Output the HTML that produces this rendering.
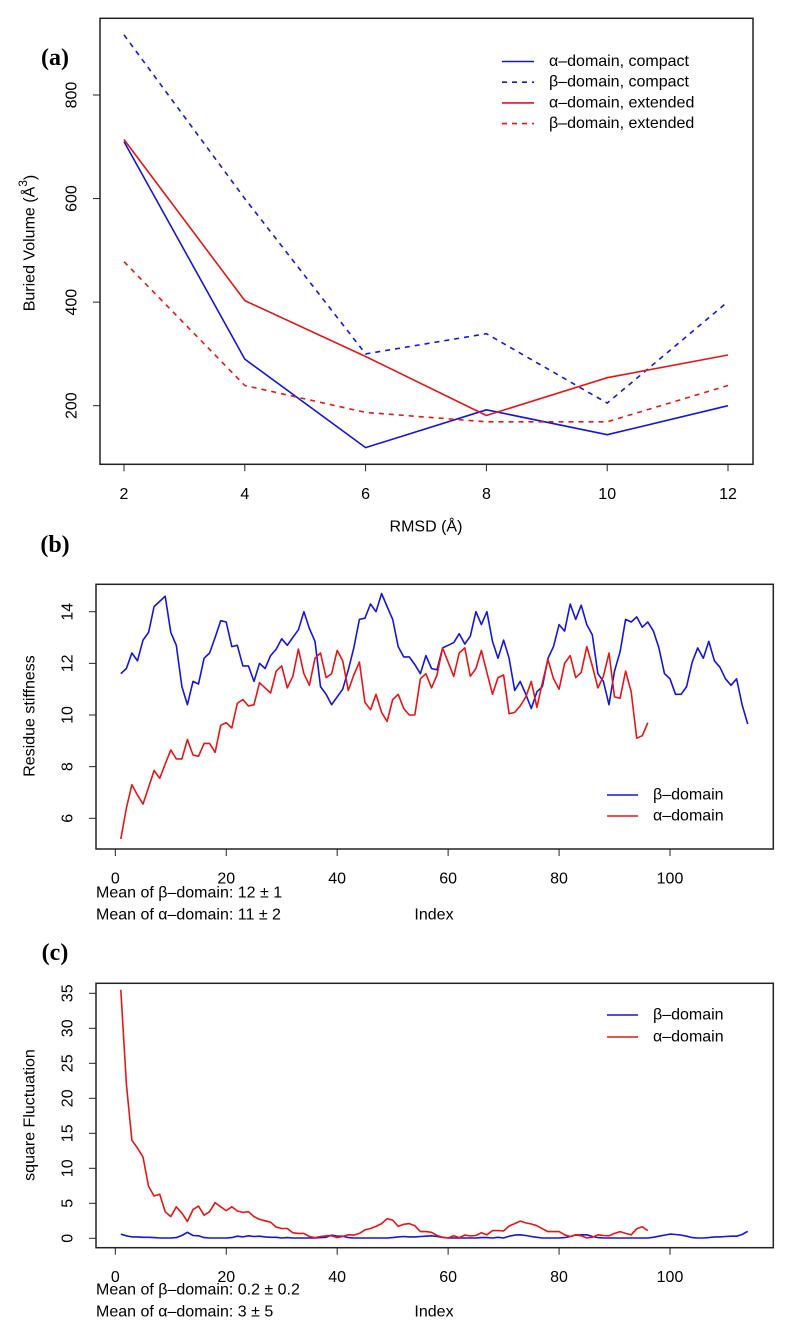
<!DOCTYPE html>
<html><head><meta charset="utf-8"><style>
html,body{margin:0;padding:0;background:#fff}
svg{display:block;font-family:"Liberation Sans",sans-serif}
</style></head><body>
<svg id="fig" width="785" height="1335" viewBox="0 0 785 1335"></svg>
<script>
// Panel (a)
const rmsd = [2,4,6,8,10,12];
const alphaCompact = [710,290,119,192,144,200];
const betaCompact = [916,600,300,339,205,401];
const alphaExtended = [714,403,295,181,254,298];
const betaExtended = [478,239,187,169,169,239];
const aXTicks = [2,4,6,8,10,12];
const aYTicks = [200,400,600,800];
// Panel (b)
const stiffBeta = [11.6,11.8,12.4,12.1,12.9,13.2,14.2,14.4,14.6,13.2,12.7,11.1,10.4,11.3,11.2,12.2,12.4,13.0,13.65,13.6,12.65,12.7,11.9,11.9,11.3,12.0,11.8,12.3,12.55,12.95,12.7,13.0,13.3,14.0,13.35,12.85,11.1,10.8,10.4,10.7,11.0,11.75,12.6,13.7,13.75,14.3,14.0,14.7,14.2,13.7,12.65,12.25,12.25,11.95,11.6,12.3,11.8,11.75,12.6,12.7,12.8,13.15,12.75,13.05,14.0,13.5,14.0,12.85,12.2,12.9,12.2,10.95,11.3,10.8,10.25,10.9,11.1,12.2,12.65,13.5,13.25,14.3,13.7,14.25,13.5,13.1,11.6,11.3,10.4,11.7,12.45,13.7,13.6,13.8,13.4,13.6,13.25,12.6,11.6,11.4,10.8,10.8,11.1,12.05,12.6,12.2,12.85,12.1,11.85,11.4,11.15,11.4,10.4,9.65];
const stiffAlpha = [5.2,6.4,7.3,6.9,6.55,7.2,7.85,7.55,8.1,8.65,8.3,8.3,9.05,8.45,8.4,8.9,8.9,8.55,9.6,9.7,9.5,10.45,10.6,10.35,10.4,11.25,11.05,10.85,11.7,11.9,11.05,11.5,12.55,11.6,11.15,12.2,12.4,11.45,11.6,12.5,12.1,10.95,11.55,12.05,10.5,10.2,10.8,10.1,9.75,10.6,10.8,10.25,10.0,10.0,11.4,11.6,11.05,11.55,12.6,12.05,11.5,12.4,12.6,11.5,11.8,12.5,11.65,10.8,11.45,11.55,10.05,10.1,10.35,10.7,11.3,10.3,11.25,12.15,11.4,11.0,12.0,12.3,11.45,11.65,12.65,11.9,11.05,11.5,12.4,10.7,10.65,11.7,10.9,9.1,9.2,9.7];
const bXTicks = [0,20,40,60,80,100];
const bYTicks = [6,8,10,12,14];
// Panel (c)
const flucBeta = [0.6,0.35,0.2,0.2,0.15,0.15,0.1,0.05,0.05,0.05,0.1,0.4,0.85,0.4,0.35,0.1,0.05,0.05,0.05,0.05,0.1,0.3,0.2,0.35,0.25,0.3,0.2,0.15,0.15,0.05,0.1,0.05,0.05,0.05,0.05,0.05,0.1,0.15,0.45,0.3,0.3,0.1,0.05,0.05,0.05,0.05,0.05,0.05,0.05,0.1,0.2,0.25,0.2,0.2,0.25,0.3,0.35,0.25,0.15,0.05,0.05,0.05,0.05,0.05,0.05,0.1,0.1,0.05,0.15,0.05,0.3,0.45,0.5,0.4,0.25,0.15,0.05,0.05,0.05,0.05,0.1,0.25,0.45,0.5,0.5,0.25,0.1,0.05,0.05,0.05,0.05,0.05,0.05,0.05,0.05,0.05,0.15,0.3,0.45,0.6,0.55,0.45,0.3,0.1,0.05,0.05,0.1,0.2,0.2,0.25,0.3,0.3,0.55,1.0];
const flucAlpha = [35.5,22,14.0,12.9,11.6,7.4,6.05,6.3,3.8,3.1,4.5,3.6,2.4,4.1,4.6,3.3,3.8,5.1,4.5,3.95,4.5,3.9,3.7,3.8,3.1,2.7,2.5,2.3,1.6,1.4,1.4,0.8,0.7,0.7,0.25,0.1,0.25,0.35,0.35,0.1,0.25,0.5,0.45,0.7,1.2,1.4,1.7,2.1,2.8,2.6,1.7,2.0,2.1,1.8,0.95,0.95,0.85,0.4,0.15,0.05,0.35,0.1,0.45,0.33,0.4,0.8,0.5,1.1,1.1,1.05,1.75,2.1,2.45,2.2,2.05,1.8,1.35,0.95,0.95,0.95,0.5,0.25,0.5,0.35,0.05,0.15,0.5,0.4,0.35,0.7,0.95,0.7,0.5,1.35,1.65,1.1];
const cXTicks = [0,20,40,60,80,100];
const cYTicks = [0,5,10,15,20,25,30,35];

const NS='http://www.w3.org/2000/svg';
const svg=document.getElementById('fig');
function mk(tag,attrs,parent){const e=document.createElementNS(NS,tag);for(const k in attrs)e.setAttribute(k,attrs[k]);(parent||svg).appendChild(e);return e;}
function txt(s,x,y,attrs,parent){const e=mk('text',Object.assign({x:x,y:y,'font-size':16,fill:'#000','text-anchor':'middle','dominant-baseline':'central'},attrs||{}),parent);e.textContent=s;return e;}
function lin(a,b,c,d){return function(v){return c+(v-a)*(d-c)/(b-a);};}

function panel(opt){
  const g=mk('g',{});
  
  
  const X=opt.x, Y=opt.y;
  opt.series.forEach(s=>{
    const pts=s.ys.map((v,i)=>(X(s.xs?s.xs[i]:i+1)).toFixed(1)+','+Y(v).toFixed(1)).join(' ');
    const p=mk('polyline',{points:pts,fill:'none',stroke:s.color,'stroke-width':1.6,'stroke-linejoin':'round'},g);
    if(s.dash)p.setAttribute('stroke-dasharray','5,5');
    
    
  });
  const b=opt.box;
  const r=mk('rect',{x:b[0],y:b[1],width:b[2]-b[0],height:b[3]-b[1],fill:'none',stroke:'#222','stroke-width':1.5},g);
  
  
  const xa=mk('g',{},g);
  
  
  opt.xt.forEach(t=>{
    mk('line',{x1:X(t),x2:X(t),y1:b[3],y2:b[3]+7,stroke:'#222','stroke-width':1},xa);
    const l=txt(String(t),X(t),b[3]+30,{},xa);
    
    
  });
  const ya=mk('g',{},g);
  
  
  opt.yt.forEach(t=>{
    mk('line',{x1:b[0]-7,x2:b[0],y1:Y(t),y2:Y(t),stroke:'#222','stroke-width':1},ya);
    const lx=b[0]-28;
    const l=txt(String(t),lx,Y(t),{transform:'rotate(-90 '+lx+' '+Y(t)+')'},ya);
    
    
  });
  return g;
}

// Panel a
const aX=lin(2,12,124,728), aY=lin(200,800,405.7,95);
panel({name:'panel-a-buried-volume',x:aX,y:aY,box:[100,18.3,753,464.3],xt:aXTicks,yt:aYTicks,series:[
  {xs:rmsd,ys:alphaCompact,color:'#1515e0',dname:'line-alpha-compact'},
  {xs:rmsd,ys:betaCompact,color:'#1515e0',dash:true,dname:'line-beta-compact'},
  {xs:rmsd,ys:alphaExtended,color:'#e81515',dname:'line-alpha-extended'},
  {xs:rmsd,ys:betaExtended,color:'#e81515',dash:true,dname:'line-beta-extended'}]});
// Panel b
const bX=lin(0,100,115.3,670), bY=lin(10,14,715,611.7);
panel({name:'panel-b-residue-stiffness',x:bX,y:bY,box:[96,584.3,773.3,849],xt:bXTicks,yt:bYTicks,series:[
  {ys:stiffBeta,color:'#1515e0',dname:'line-beta-stiffness'},
  {ys:stiffAlpha,color:'#e81515',dname:'line-alpha-stiffness'}]});
// Panel c
const cX=lin(0,100,115.3,670), cY=lin(0,35,1238.3,993.3);
panel({name:'panel-c-square-fluctuation',x:cX,y:cY,box:[96,983.3,773.3,1247.7],xt:cXTicks,yt:cYTicks,series:[
  {ys:flucBeta,color:'#1515e0',dname:'line-beta-fluctuation'},
  {ys:flucAlpha,color:'#e81515',dname:'line-alpha-fluctuation'}]});

function label(s,x,y,name,attrs){const e=txt(s,x,y,attrs);return e;}
label('(a)',55,58,'panel-a-tag',{'font-family':'Liberation Serif, serif','font-weight':'bold','font-size':24});
label('(b)',55,545,'panel-b-tag',{'font-family':'Liberation Serif, serif','font-weight':'bold','font-size':24});
label('(c)',55,953,'panel-c-tag',{'font-family':'Liberation Serif, serif','font-weight':'bold','font-size':24});
label('RMSD (Å)',426,527,'x-axis-title-a');
const yat=txt('',30,243,{transform:'rotate(-90 30 243)'});


yat.innerHTML='Buried Volume (Å<tspan font-size="12" dy="-7">3</tspan><tspan dy="7">)</tspan>';
label('Residue stiffness',30,716,'y-axis-title-b',{transform:'rotate(-90 30 716)'});
label('square Fluctuation',30,1115,'y-axis-title-c',{transform:'rotate(-90 30 1115)'});
label('Index',434,915,'x-axis-title-b');
label('Index',434,1312,'x-axis-title-c');
label('Mean of β–domain: 12 ± 1',96,893,'mean-beta-b',{'text-anchor':'start'});
label('Mean of α–domain: 11 ± 2',96,915,'mean-alpha-b',{'text-anchor':'start'});
label('Mean of β–domain: 0.2 ± 0.2',96,1290,'mean-beta-c',{'text-anchor':'start'});
label('Mean of α–domain: 3 ± 5',96,1312,'mean-alpha-c',{'text-anchor':'start'});

function legend(name,x1,x2,tx,y0,dy,items){
  const g=mk('g',{});
  
  
  items.forEach((it,i)=>{
    const y=y0+i*dy;
    const l=mk('line',{x1:x1,x2:x2,y1:y,y2:y,stroke:it[1],'stroke-width':1.6},g);
    if(it[2])l.setAttribute('stroke-dasharray','5,5');
    const t=txt(it[0],tx,y,{'text-anchor':'start'},g);
    
    
  });
}
legend('legend-a',502,534,549,61.5,20.7,[['α–domain, compact','#1515e0',false],['β–domain, compact','#1515e0',true],['α–domain, extended','#e81515',false],['β–domain, extended','#e81515',true]]);
legend('legend-b',607,638,653,795,21,[['β–domain','#1515e0'],['α–domain','#e81515']]);
legend('legend-c',607,638,653,1015,22,[['β–domain','#1515e0'],['α–domain','#e81515']]);
</script>
</body></html>
